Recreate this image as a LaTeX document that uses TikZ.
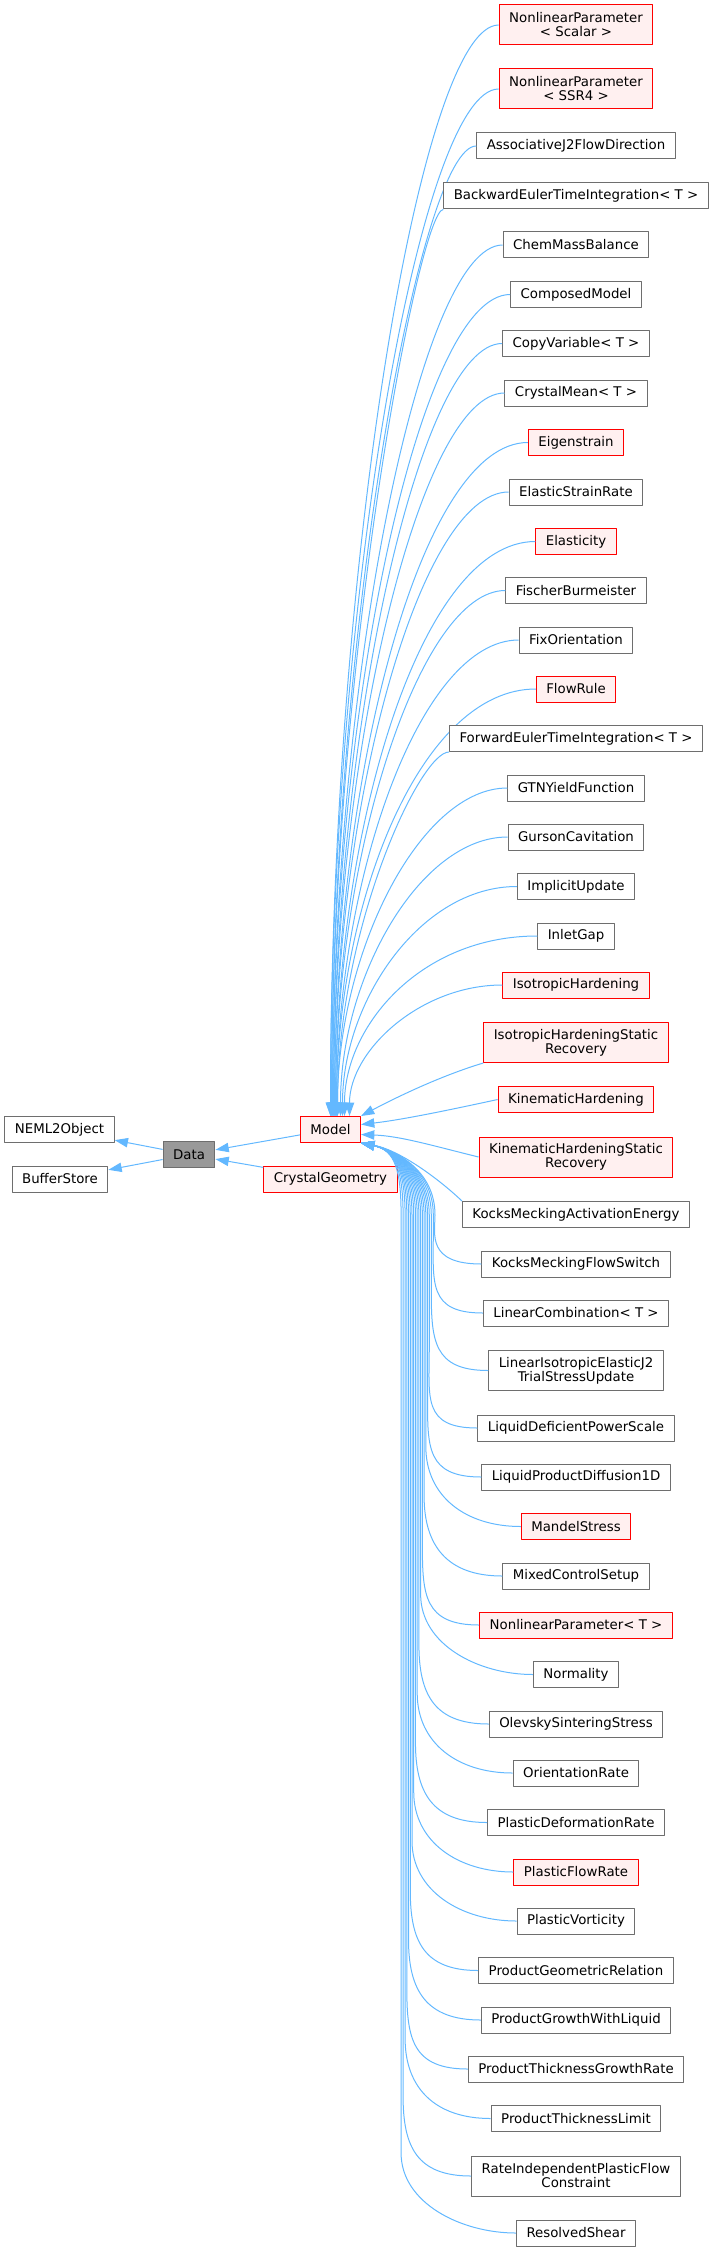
\documentclass[tikz,border=0pt]{standalone}
\usepackage{fontspec}
\setmainfont{DejaVu Sans}
\usetikzlibrary{arrows.meta,calc}
\definecolor{edgeblue}{HTML}{63B8FF}
\definecolor{boxgray}{HTML}{6E6E6E}
\definecolor{rootgray}{HTML}{999999}
\definecolor{redfill}{HTML}{FFF0F0}
\begin{document}
\begin{tikzpicture}[x=0.75pt, y=-0.75pt, line join=round, font=\fontsize{10}{10.5}\selectfont, >={Triangle[length=10pt,width=7pt]}]
	\tikzset{cls/.style={draw=boxgray, fill=white, line width=0.75pt, inner xsep=7.5pt, inner ysep=4pt, minimum height=19.5pt, align=center},
		redcls/.style={cls, draw=red, fill=redfill},
		twocls/.style={cls, minimum height=30pt},
		redtwo/.style={redcls, minimum height=30pt},
		rootcls/.style={cls, fill=rootgray},
		inheritline/.style={draw=edgeblue, line width=0.75pt, ->}}
	\useasboundingbox (0,0) rectangle (712,2251);
	\coordinate (bendx) at (420,0);
	\node[cls] (neml) at (59.5,1129.5) {NEML2Object};
	\node[cls] (buffer) at (60,1179) {BufferStore};
	\node[rootcls] (data) at (189,1154.5) {Data};
	\node[redcls] (model) at (330.5,1129.5) {Model};
	\node[redcls] (crystgeom) at (330.5,1179) {CrystalGeometry};
	\draw[inheritline] (data) -- (neml);
	\draw[inheritline] (data) -- (buffer);
	\draw[inheritline] (model) -- (data);
	\draw[inheritline] (crystgeom) -- (data);
	% classes above Model
	\foreach \nm/\txt/\yy/\sty/\anc/\dx in {npscalar/{NonlinearParameter\\< Scalar >}/25/redtwo/west/0,
		npssr/{NonlinearParameter\\< SSR4 >}/89/redtwo/west/0,
		assoc/AssociativeJ2FlowDirection/146/cls/west/1,
		backeuler/{BackwardEulerTimeIntegration< T >}/196/cls/south west/1,
		chem/ChemMassBalance/245/cls/west/2,
		composed/ComposedModel/294.5/cls/west/2,
		copyvar/{CopyVariable< T >}/343.5/cls/west/3,
		crystmean/{CrystalMean< T >}/393/cls/west/3,
		eigen/Eigenstrain/442.5/redcls/west/4,
		elrate/ElasticStrainRate/492/cls/west/4,
		elast/Elasticity/541.5/redcls/west/5,
		fischer/FischerBurmeister/590.5/cls/west/5,
		fixori/FixOrientation/640/cls/west/6,
		flowrule/FlowRule/689/redcls/west/6,
		foreuler/{ForwardEulerTimeIntegration< T >}/738.5/cls/south west/7,
		gtn/GTNYieldFunction/788/cls/west/7,
		gurson/GursonCavitation/837/cls/west/10,
		implicit/ImplicitUpdate/886.5/cls/west/12,
		inlet/InletGap/936/cls/west/14,
		isohard/IsotropicHardening/985/redcls/west/19}
	{
		\node[\sty] (\nm) at (576,\yy) {\txt};
		\pgfmathsetmacro\ymid{(\yy+1117)/2}
		\pgfmathsetmacro\tgx{330.5+\dx}
		\draw[inheritline] (\nm.\anc) .. controls (\nm.\anc -| bendx) and (\tgx,\ymid) .. ($(model.north)+(\dx,0)$);
	}
	\node[redtwo] (isostatic) at (576,1042.5) {IsotropicHardeningStatic\\Recovery};
	\node[redcls] (kinhard) at (576,1099.5) {KinematicHardening};
	\node[redtwo] (kinstatic) at (576,1157) {KinematicHardeningStatic\\Recovery};
	\node[cls] (kmact) at (576,1214.5) {KocksMeckingActivationEnergy};
	\draw[inheritline] (isostatic.south west) .. controls (440,1076) and (395,1098) .. (model.north east);
	\draw[inheritline] (kinhard.west) .. controls (440,1112) and (400,1120) .. ($(model.east)+(0,-5)$);
	\draw[inheritline] (kinstatic.west) .. controls (430,1145) and (400,1136) .. ($(model.east)+(0,5)$);
	\draw[inheritline] (kmact.north west) .. controls (440,1180) and (400,1150) .. (model.south east);
	% classes below Model
	\foreach \nm/\txt/\yy/\sty in {kmflow/KocksMeckingFlowSwitch/1264/cls,
		lincomb/{LinearCombination< T >}/1313/cls,
		linj2/{LinearIsotropicElasticJ2\\TrialStressUpdate}/1370.5/twocls,
		liqdef/LiquidDeficientPowerScale/1428/cls,
		liqdiff/LiquidProductDiffusion1D/1477/cls,
		mandel/MandelStress/1526.5/redcls,
		mixed/MixedControlSetup/1576/cls,
		npt/{NonlinearParameter< T >}/1625/redcls,
		normality/Normality/1674.5/cls,
		olevsky/OlevskySinteringStress/1724/cls,
		orirate/OrientationRate/1773/cls,
		pldef/PlasticDeformationRate/1822.5/cls,
		plflow/PlasticFlowRate/1872/redcls,
		plvort/PlasticVorticity/1921/cls,
		pgeom/ProductGeometricRelation/1970.5/cls,
		pgrowth/ProductGrowthWithLiquid/2020/cls,
		pthickrate/ProductThicknessGrowthRate/2069/cls,
		pthicklim/ProductThicknessLimit/2118.5/cls,
		rateind/{RateIndependentPlasticFlow\\Constraint}/2176/twocls,
		resolved/ResolvedShear/2233/cls}
	{
		\node[\sty] (\nm) at (576,\yy) {\txt};
		\pgfmathsetmacro\xb{435-(\yy-1264)*0.035}
		\pgfmathsetmacro\yc{\yy-30}
		\pgfmathsetmacro\yb{max(\yy-80,1215)}
		\draw[inheritline] (\nm.west) .. controls +(-55,0) and (\xb,\yc) .. (\xb,\yb) -- (\xb,1215) .. controls (\xb,1170) and (395,1150) .. (model.south east);
	}
\end{tikzpicture}
\end{document}
